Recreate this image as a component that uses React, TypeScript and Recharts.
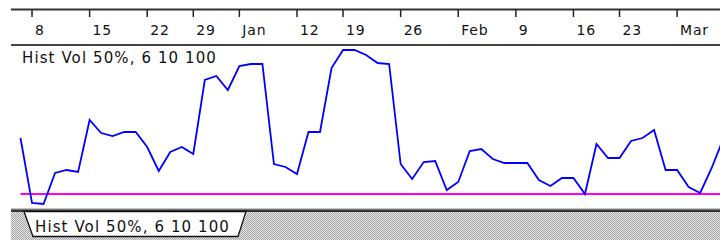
import React from 'react';
import { LineChart, Line, XAxis, YAxis, ReferenceLine } from 'recharts';

// Historical volatility readings, one per trading day
const histVol: number[] = [
  24.0, 7.75, 7.5, 15.25, 16.0, 15.5, 28.5, 25.25, 24.5, 25.5,
  25.5, 21.75, 15.75, 20.5, 21.75, 20.0, 38.5, 39.5, 36.0, 42.0,
  42.5, 42.5, 17.5, 16.75, 15.0, 25.5, 25.5, 41.5, 46.0, 46.0,
  44.75, 42.75, 42.5, 17.5, 13.75, 18.0, 18.25, 11.0, 13.0, 20.75,
  21.25, 18.75, 17.75, 17.75, 17.75, 13.5, 12.0, 14.0, 14.0, 10.0,
  22.5, 19.0, 19.0, 23.25, 24.0, 26.0, 16.0, 16.0, 11.75, 10.25,
  16.5, 23.75,
];

// Week-start ticks (trading-day index) and their labels
const tickDays: number[] = [1, 6, 11, 15, 19, 24, 28, 33, 38, 43, 48, 52, 57];
const tickLabels: string[] = ['8', '15', '22', '29', 'Jan', '12', '19', '26', 'Feb', '9', '16', '23', 'Mar'];

const refLevel = 10;
const xDomain: [number, number] = [0, 61];
const yDomain: [number, number] = [6.25, 47];
const studyName = 'Hist Vol 50%, 6 10 100';

const data = histVol.map((v, i) => ({ day: i, vol: v }));

const FONT = '"DejaVu Sans", Verdana, sans-serif';

const TopTick = (props: any) => {
  const { x, payload } = props;
  const idx = tickDays.indexOf(payload.value);
  const label = idx >= 0 ? tickLabels[idx] : '';
  return (
    <g>
      <line x1={x} x2={x} y1={10} y2={17} stroke="#222" strokeWidth={1.5} />
      <text x={x + 3} y={35} fontSize={14} letterSpacing={0.8} fill="#111" fontFamily={FONT}>
        {label}
      </text>
    </g>
  );
};

const Frame = () => (
  <svg width={720} height={240} style={{ position: 'absolute', left: 0, top: 0 }}>
    <defs>
      <pattern id="hatch" width={2} height={2} patternUnits="userSpaceOnUse">
        <rect width={2} height={2} fill="#e4e4e4" />
        <rect x={0} y={0} width={1} height={1} fill="#a8a8a8" />
        <rect x={1} y={1} width={1} height={1} fill="#a8a8a8" />
      </pattern>
    </defs>
    <rect x={0} y={0} width={720} height={240} fill="#fff" />
    {/* top axis box lines */}
    <rect x={11} y={8.5} width={709} height={2} fill="#333" />
    <rect x={11} y={44} width={709} height={2} fill="#444" />
    {/* bottom separator and hatched tab strip */}
    <rect x={11} y={212} width={709} height={28} fill="url(#hatch)" />
    <rect x={11} y={208.5} width={709} height={1} fill="#888" />
    <rect x={11} y={209.5} width={709} height={2.5} fill="#333" />
    <polygon points="24,211.5 33,236.5 238,236.5 246,211.5" fill="#fff" stroke="#111" strokeWidth={1.3} />
    <text x={35} y={232} fontSize={15} letterSpacing={1.1} fill="#111" fontFamily={FONT}>
      {studyName}
    </text>
  </svg>
);

export default function App() {
  return (
    <div style={{ position: 'fixed', left: 0, top: 0, width: 720, height: 240, overflow: 'hidden', background: '#fff' }}>
      <Frame />
      <div style={{ position: 'absolute', left: 0, top: 0, width: 724, height: 240 }}>
        <LineChart width={724} height={240} data={data} margin={{ top: 10, right: 0.8, bottom: 31, left: 20.5 }}>
          <XAxis
            dataKey="day"
            type="number"
            orientation="top"
            domain={xDomain}
            ticks={tickDays}
            interval={0}
            axisLine={false}
            tickLine={false}
            height={36}
            tick={(p: any) => <TopTick {...p} />}
          />
          <YAxis hide type="number" domain={yDomain} />
          <ReferenceLine y={refLevel} stroke="#ff00ff" strokeWidth={2} />
          <Line
            type="linear"
            dataKey="vol"
            stroke="#0000ff"
            strokeWidth={1.8}
            dot={false}
            isAnimationActive={false}
          />
        </LineChart>
      </div>
      <svg width={720} height={240} style={{ position: 'absolute', left: 0, top: 0, pointerEvents: 'none' }}>
        <text x={22} y={63} fontSize={15} letterSpacing={1.1} fill="#111" fontFamily={FONT}>
          {studyName}
        </text>
      </svg>
    </div>
  );
}
